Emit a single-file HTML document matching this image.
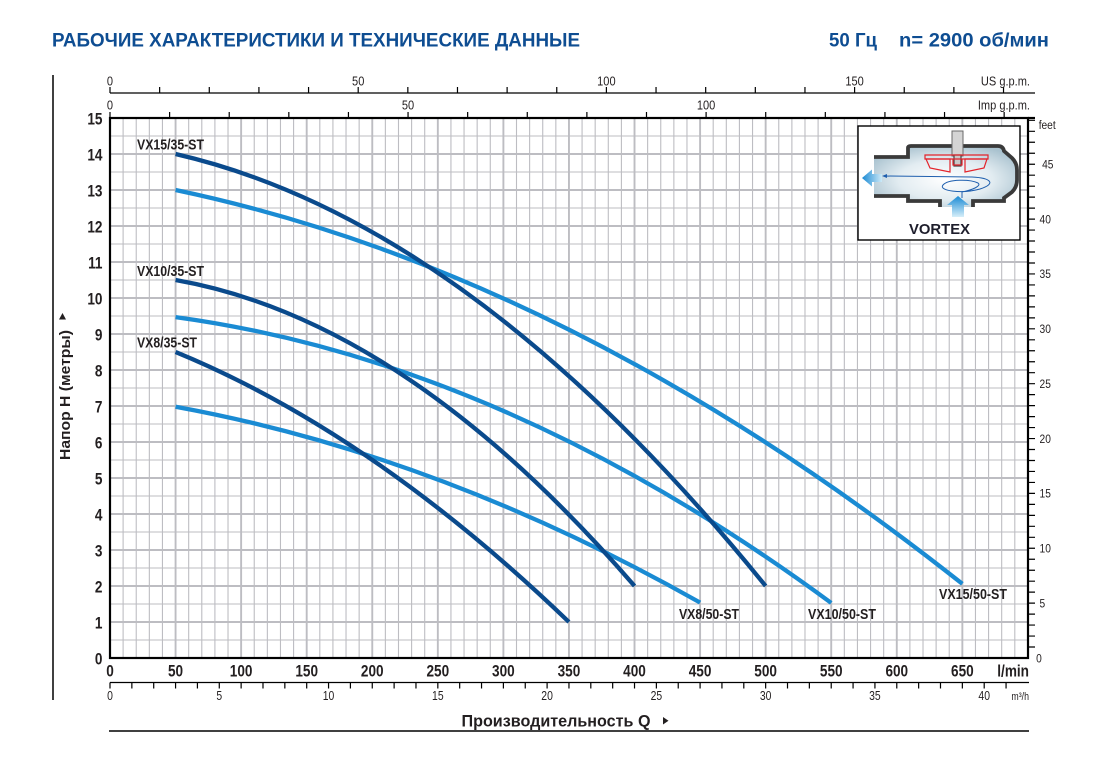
<!DOCTYPE html>
<html><head><meta charset="utf-8"><title>Chart</title>
<style>
html,body{margin:0;padding:0;background:#fff;}
body{width:1112px;height:761px;overflow:hidden;}
svg{display:block;}
text{font-family:"Liberation Sans","DejaVu Sans",sans-serif;}
</style></head>
<body>
<svg width="1112" height="761" viewBox="0 0 1112 761" xmlns="http://www.w3.org/2000/svg">
<defs>
<radialGradient id="bodyg" cx="0.5" cy="0.55" r="0.6">
<stop offset="0" stop-color="#ffffff"/><stop offset="0.55" stop-color="#e2ecf1"/><stop offset="1" stop-color="#a9c2cf"/>
</radialGradient>
<linearGradient id="arrL" x1="0" y1="0" x2="1" y2="0">
<stop offset="0" stop-color="#1a8ad4"/><stop offset="1" stop-color="#cdeaf8"/>
</linearGradient>
<linearGradient id="arrU" x1="0" y1="0" x2="0" y2="1">
<stop offset="0" stop-color="#1a8ad4"/><stop offset="1" stop-color="#d5eef9"/>
</linearGradient>
</defs>
<rect width="1112" height="761" fill="#fff"/>

<!-- Header -->
<text x="52" y="46.5" font-size="19.5" font-weight="bold" fill="#0e4d92" textLength="528" lengthAdjust="spacingAndGlyphs">РАБОЧИЕ ХАРАКТЕРИСТИКИ И ТЕХНИЧЕСКИЕ ДАННЫЕ</text>
<text x="829" y="46.5" font-size="19.5" font-weight="bold" fill="#0e4d92" textLength="48" lengthAdjust="spacingAndGlyphs">50 Гц</text>
<text x="899" y="46.5" font-size="19.5" font-weight="bold" fill="#0e4d92" textLength="150" lengthAdjust="spacingAndGlyphs">n= 2900 об/мин</text>

<!-- left vertical rule -->
<line x1="53" y1="75" x2="53" y2="700" stroke="#000" stroke-width="1.5"/>

<!-- Grid -->
<path fill="none" stroke="#bdbdc2" stroke-width="1.1" d="M123.11 118V658M136.23 118V658M149.34 118V658M162.45 118V658M188.68 118V658M201.79 118V658M214.90 118V658M228.02 118V658M254.24 118V658M267.36 118V658M280.47 118V658M293.58 118V658M319.81 118V658M332.92 118V658M346.03 118V658M359.15 118V658M385.37 118V658M398.49 118V658M411.60 118V658M424.71 118V658M450.94 118V658M464.05 118V658M477.16 118V658M490.28 118V658M516.50 118V658M529.62 118V658M542.73 118V658M555.84 118V658M582.07 118V658M595.18 118V658M608.29 118V658M621.41 118V658M647.63 118V658M660.75 118V658M673.86 118V658M686.97 118V658M713.20 118V658M726.31 118V658M739.42 118V658M752.54 118V658M778.76 118V658M791.88 118V658M804.99 118V658M818.10 118V658M844.33 118V658M857.44 118V658M870.55 118V658M883.67 118V658M909.89 118V658M923.01 118V658M936.12 118V658M949.23 118V658M975.46 118V658M988.57 118V658M1001.68 118V658M1014.80 118V658
M110 640H1028M110 604H1028M110 568H1028M110 532H1028M110 496H1028M110 460H1028M110 424H1028M110 388H1028M110 352H1028M110 316H1028M110 280H1028M110 244H1028M110 208H1028M110 172H1028M110 136H1028"/>
<path fill="none" stroke="#bdbdc2" stroke-width="1.9" d="M175.57 118V658M241.13 118V658M306.70 118V658M372.26 118V658M437.83 118V658M503.39 118V658M568.96 118V658M634.52 118V658M700.09 118V658M765.65 118V658M831.22 118V658M896.78 118V658M962.35 118V658
M110 622H1028M110 586H1028M110 550H1028M110 514H1028M110 478H1028M110 442H1028M110 406H1028M110 370H1028M110 334H1028M110 298H1028M110 262H1028M110 226H1028M110 190H1028M110 154H1028"/>

<!-- Curves: light (50-ST) -->
<g fill="none" stroke="#1a8bd3" stroke-width="4.3" stroke-linecap="butt">
<path d="M175.57 190 Q568.96 272.44 962.35 583.84"/>
<path d="M175.57 317.08 Q503.39 361.8 831.22 602.92"/>
<path d="M175.57 406.72 Q437.83 454.51 700.09 602.56"/>
</g>
<!-- Curves: dark (35-ST) -->
<g fill="none" stroke="#0a4a8c" stroke-width="4.3" stroke-linecap="butt">
<path d="M175.57 154 Q470.61 221.77 765.65 586"/>
<path d="M175.57 280 Q405.04 320.34 634.52 586"/>
<path d="M175.57 352 Q372.26 432.84 568.96 622"/>
</g>

<!-- Plot frame -->
<rect x="110" y="118" width="918" height="540" fill="none" stroke="#000" stroke-width="2.2"/>
<line x1="1028" y1="118" x2="1035" y2="118" stroke="#000" stroke-width="2.2"/>

<!-- Curve labels -->
<g font-size="15" font-weight="bold" fill="#231f20">
<text x="137" y="149.5" textLength="67" lengthAdjust="spacingAndGlyphs">VX15/35-ST</text>
<text x="137" y="276" textLength="67" lengthAdjust="spacingAndGlyphs">VX10/35-ST</text>
<text x="137" y="347.5" textLength="60" lengthAdjust="spacingAndGlyphs">VX8/35-ST</text>
<text x="679" y="619" textLength="60" lengthAdjust="spacingAndGlyphs">VX8/50-ST</text>
<text x="808" y="619" textLength="68" lengthAdjust="spacingAndGlyphs">VX10/50-ST</text>
<text x="939" y="599" textLength="68" lengthAdjust="spacingAndGlyphs">VX15/50-ST</text>
</g>

<!-- Y axis labels (m) -->
<g transform="scale(0.8,1)" font-size="17" font-weight="bold" fill="#231f20" text-anchor="end">
<text x="128.1" y="664.5">0</text>
<text x="128.1" y="628.5">1</text>
<text x="128.1" y="592.5">2</text>
<text x="128.1" y="556.5">3</text>
<text x="128.1" y="520.5">4</text>
<text x="128.1" y="484.5">5</text>
<text x="128.1" y="448.5">6</text>
<text x="128.1" y="412.5">7</text>
<text x="128.1" y="376.5">8</text>
<text x="128.1" y="340.5">9</text>
<text x="128.1" y="304.5">10</text>
<text x="128.1" y="268.5">11</text>
<text x="128.1" y="232.5">12</text>
<text x="128.1" y="196.5">13</text>
<text x="128.1" y="160.5">14</text>
<text x="128.1" y="124.5">15</text>
</g>

<!-- Y axis title -->
<text transform="translate(70,460) rotate(-90)" font-size="15" font-weight="bold" fill="#231f20" textLength="130" lengthAdjust="spacingAndGlyphs">Напор H (метры)</text>
<polygon points="62.5,313 59,319.5 66,319.5" fill="#231f20"/>

<!-- Bottom l/min labels -->
<g transform="scale(0.8,1)" font-size="17" font-weight="bold" fill="#231f20" text-anchor="middle">
<text x="137.5" y="676.5">0</text>
<text x="219.46" y="676.5">50</text>
<text x="301.41" y="676.5">100</text>
<text x="383.38" y="676.5">150</text>
<text x="465.33" y="676.5">200</text>
<text x="547.29" y="676.5">250</text>
<text x="629.24" y="676.5">300</text>
<text x="711.2" y="676.5">350</text>
<text x="793.15" y="676.5">400</text>
<text x="875.11" y="676.5">450</text>
<text x="957.06" y="676.5">500</text>
<text x="1039.03" y="676.5">550</text>
<text x="1120.98" y="676.5">600</text>
<text x="1202.94" y="676.5">650</text>
<text x="1286.25" y="676.5" text-anchor="end">l/min</text>
</g>

<!-- m3/h axis -->
<line x1="110" y1="682.5" x2="1029" y2="682.5" stroke="#000" stroke-width="1.3"/>
<path fill="none" stroke="#000" stroke-width="1.2" d="M110 682.5v6M131.86 682.5v6M153.71 682.5v6M175.57 682.5v6M197.42 682.5v6M219.28 682.5v6M241.13 682.5v6M262.99 682.5v6M284.84 682.5v6M306.70 682.5v6M328.55 682.5v6M350.41 682.5v6M372.26 682.5v6M394.12 682.5v6M415.97 682.5v6M437.83 682.5v6M459.68 682.5v6M481.54 682.5v6M503.39 682.5v6M525.25 682.5v6M547.10 682.5v6M568.96 682.5v6M590.81 682.5v6M612.67 682.5v6M634.52 682.5v6M656.38 682.5v6M678.23 682.5v6M700.09 682.5v6M721.94 682.5v6M743.80 682.5v6M765.65 682.5v6M787.51 682.5v6M809.36 682.5v6M831.22 682.5v6M853.07 682.5v6M874.93 682.5v6M896.78 682.5v6M918.64 682.5v6M940.49 682.5v6M962.35 682.5v6M984.20 682.5v6M1006.06 682.5v6"/>
<g transform="scale(0.8,1)" font-size="13" fill="#231f20" text-anchor="middle">
<text x="137.5" y="700">0</text>
<text x="274.1" y="700">5</text>
<text x="410.69" y="700">10</text>
<text x="547.29" y="700">15</text>
<text x="683.88" y="700">20</text>
<text x="820.48" y="700">25</text>
<text x="957.06" y="700">30</text>
<text x="1093.66" y="700">35</text>
<text x="1230.25" y="700">40</text>
<text x="1286.25" y="700" text-anchor="end" font-size="11">m³/h</text>
</g>

<!-- Bottom title -->
<text x="461.5" y="726.3" font-size="17" font-weight="bold" fill="#231f20" textLength="189" lengthAdjust="spacingAndGlyphs">Производительность Q</text>
<polygon points="663,717 663,724.5 668.5,720.7" fill="#231f20"/>
<line x1="109" y1="731" x2="1029" y2="731" stroke="#000" stroke-width="1.5"/>

<!-- Top US gpm axis -->
<line x1="110" y1="93" x2="1035" y2="93" stroke="#000" stroke-width="1.3"/>
<path fill="none" stroke="#000" stroke-width="1.2" d="M110 87v6M159.64 87v6M209.28 87v6M258.92 87v6M308.56 87v6M358.2 87v6M407.84 87v6M457.48 87v6M507.12 87v6M556.76 87v6M606.4 87v6M656.04 87v6M705.68 87v6M755.32 87v6M804.96 87v6M854.6 87v6M904.24 87v6M953.88 87v6M1003.52 87v6"/>
<!-- Imp ticks -->
<path fill="none" stroke="#000" stroke-width="1.2" d="M110 112v6M169.61 112v6M229.22 112v6M288.83 112v6M348.44 112v6M408.05 112v6M467.66 112v6M527.27 112v6M586.88 112v6M646.49 112v6M706.1 112v6M765.71 112v6M825.32 112v6M884.93 112v6M944.54 112v6M1004.15 112v6"/>
<g transform="scale(0.85,1)" font-size="13" fill="#231f20" text-anchor="middle">
<text x="129.41" y="85.5">0</text>
<text x="421.41" y="85.5">50</text>
<text x="713.41" y="85.5">100</text>
<text x="1005.41" y="85.5">150</text>
<text x="1211.76" y="85.5" text-anchor="end">US g.p.m.</text>
<text x="129.41" y="109.5">0</text>
<text x="480.06" y="109.5">50</text>
<text x="830.71" y="109.5">100</text>
<text x="1211.76" y="109.5" text-anchor="end">Imp g.p.m.</text>
</g>

<!-- Right feet axis -->
<path fill="none" stroke="#000" stroke-width="1.2" d="M1028 647.03h7M1028 636.05h7M1028 625.08h7M1028 614.11h7M1028 603.14h7M1028 592.16h7M1028 581.19h7M1028 570.22h7M1028 559.24h7M1028 548.27h7M1028 537.30h7M1028 526.33h7M1028 515.35h7M1028 504.38h7M1028 493.41h7M1028 482.43h7M1028 471.46h7M1028 460.49h7M1028 449.52h7M1028 438.54h7M1028 427.57h7M1028 416.60h7M1028 405.63h7M1028 394.65h7M1028 383.68h7M1028 372.71h7M1028 361.73h7M1028 350.76h7M1028 339.79h7M1028 328.82h7M1028 317.84h7M1028 306.87h7M1028 295.90h7M1028 284.92h7M1028 273.95h7M1028 262.98h7M1028 252.01h7M1028 241.03h7M1028 230.06h7M1028 219.09h7M1028 208.12h7M1028 197.14h7M1028 186.17h7M1028 175.20h7M1028 164.22h7M1028 153.25h7M1028 142.28h7M1028 131.31h7M1028 120.33h7"/>
<g transform="scale(0.85,1)" font-size="12" fill="#231f20">
<text x="1219" y="662.3">0</text>
<text x="1223" y="607.4">5</text>
<text x="1223" y="552.5">10</text>
<text x="1223" y="497.7">15</text>
<text x="1223" y="442.8">20</text>
<text x="1223" y="388">25</text>
<text x="1223" y="333.1">30</text>
<text x="1223" y="278.2">35</text>
<text x="1223" y="223.4">40</text>
<text x="1226" y="168.5">45</text>
<text x="1222" y="128.8">feet</text>
</g>

<!-- VORTEX inset -->
<rect x="858" y="126" width="162" height="114" fill="#fff" stroke="#000" stroke-width="1.4"/>
<path d="M874 157 L908 157 L908 148 Q908 146 911 146 L998 146 Q1003 146 1004 151 L1012 158 Q1017 163 1017 170 L1017 180 Q1017 187 1012 192 L1004 198 L1004 201 L973 201 L973 207 L940 207 L940 201 L908 201 L908 196 L874 196 Z" fill="url(#bodyg)" stroke="none"/>
<path d="M874 157 L908 157 L908 148 Q908 146 911 146 L998 146 Q1003 146 1004 151 L1012 158 Q1017 163 1017 170 L1017 180 Q1017 187 1012 192 L1004 198 L1004 201 L973 201 L973 207" fill="none" stroke="#3a3a3a" stroke-width="3.8"/>
<path d="M874 196 L908 196 L908 201 L940 201 L940 207" fill="none" stroke="#3a3a3a" stroke-width="3.8"/>
<!-- shaft -->
<rect x="952" y="131" width="11" height="25" fill="#d4d4d4" stroke="#6a6a6a" stroke-width="1"/>
<rect x="954" y="155" width="7" height="11" fill="#c8c8c8" stroke="#444" stroke-width="1.2"/>
<!-- impeller -->
<g fill="none" stroke="#e3232b" stroke-width="1.2">
<path d="M925 155 L988 155 L988 159 L925 159 Z"/>
<path d="M926 159 L950 159 L950 172 L930 168 Z"/>
<path d="M965 159 L987 159 L984 168 L965 172 Z"/>
<path d="M953 159 L953 165 L962 165 L962 159"/>
</g>
<!-- flow lines -->
<path d="M884 176 L972 177 C992 178 996 184 980 189 C962 194 938 191 943 185 C948 179 970 179 978 183 C982 186 972 190 962 192 L962 198" fill="none" stroke="#1f5fae" stroke-width="1"/>
<polygon points="882,176 887,174 887,178" fill="#1f5fae"/>
<!-- arrows -->
<polygon points="862,178 872,169.5 872,174 882,174 882,182 872,182 872,186.5" fill="url(#arrL)"/>
<polygon points="958,196 969,205 964,205 964,217 952,217 952,205 947,205" fill="url(#arrU)"/>
<text x="909" y="234" font-size="15" font-weight="bold" fill="#1d1d2b" textLength="61" lengthAdjust="spacingAndGlyphs">VORTEX</text>
</svg>
</body></html>
